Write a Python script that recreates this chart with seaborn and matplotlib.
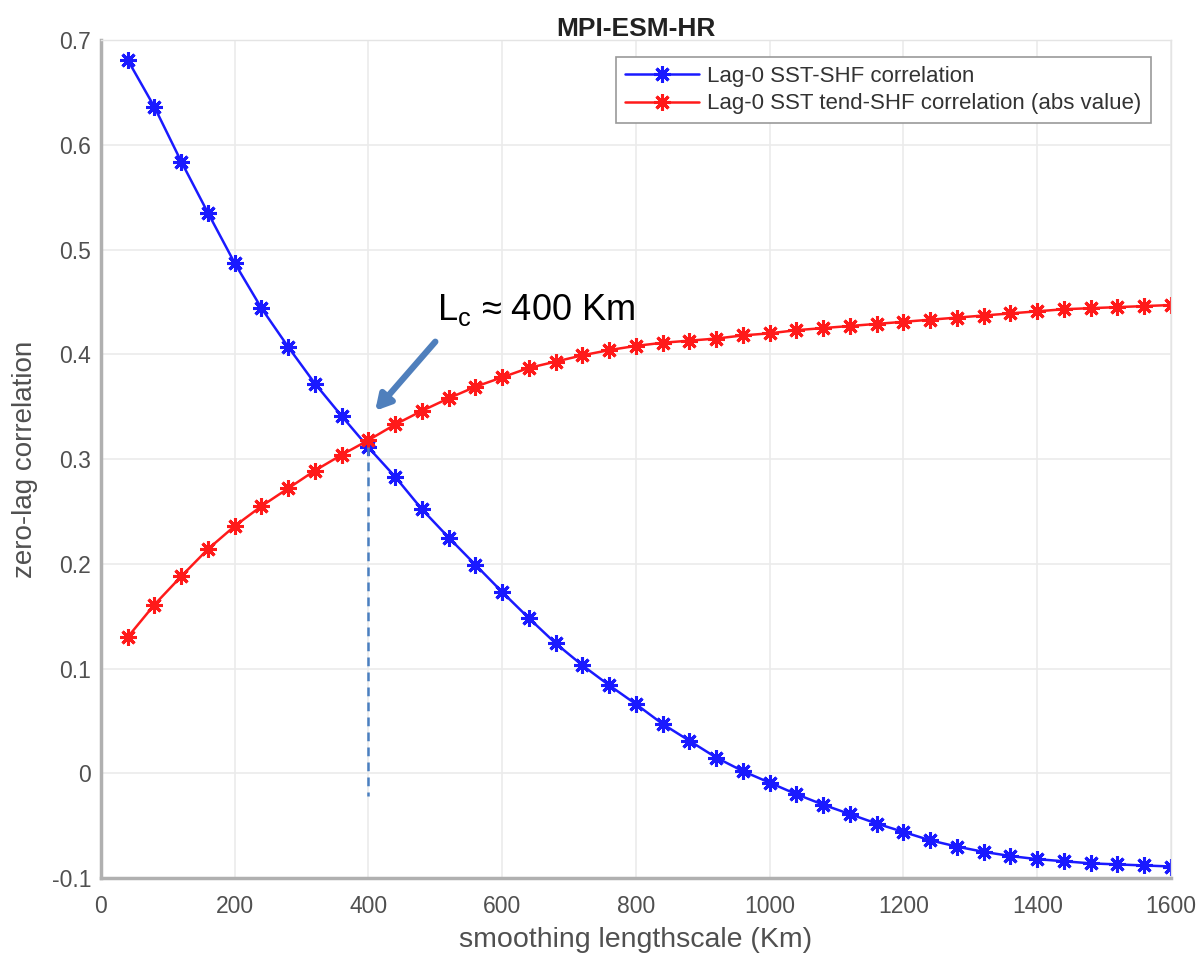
import seaborn as sns
import matplotlib.pyplot as plt
import numpy as np

# smoothing lengthscale (Km)
lengthscale = [40, 80, 120, 160, 200, 240, 280, 320, 360, 400,
               440, 480, 520, 560, 600, 640, 680, 720, 760, 800,
               840, 880, 920, 960, 1000, 1040, 1080, 1120, 1160, 1200,
               1240, 1280, 1320, 1360, 1400, 1440, 1480, 1520, 1560, 1600]

# Lag-0 SST-SHF correlation
sst_shf = [0.681, 0.636, 0.584, 0.535, 0.487, 0.444, 0.407, 0.372, 0.341, 0.311,
           0.283, 0.252, 0.225, 0.199, 0.173, 0.148, 0.124, 0.103, 0.084, 0.066,
           0.047, 0.031, 0.015, 0.002, -0.009, -0.020, -0.030, -0.039, -0.048, -0.056,
           -0.064, -0.070, -0.075, -0.079, -0.082, -0.084, -0.086, -0.087, -0.088, -0.089]

# Lag-0 SST tend-SHF correlation (abs value)
tend_shf = [0.130, 0.161, 0.188, 0.214, 0.236, 0.255, 0.272, 0.289, 0.304, 0.318,
            0.333, 0.346, 0.358, 0.369, 0.378, 0.387, 0.393, 0.399, 0.404, 0.408,
            0.411, 0.413, 0.415, 0.418, 0.420, 0.423, 0.425, 0.427, 0.429, 0.431,
            0.433, 0.435, 0.437, 0.439, 0.441, 0.443, 0.444, 0.445, 0.446, 0.447]

labels = ["Lag-0 SST-SHF correlation", "Lag-0 SST tend-SHF correlation (abs value)"]
colors = ["#1a1aff", "#ff1a1a"]
xticks = [0, 200, 400, 600, 800, 1000, 1200, 1400, 1600]
yticks = [-0.1, 0, 0.1, 0.2, 0.3, 0.4, 0.5, 0.6, 0.7]
ytick_labels = ["-0.1", "0", "0.1", "0.2", "0.3", "0.4", "0.5", "0.6", "0.7"]

sns.set_style("white")
plt.rcParams["font.family"] = ["Liberation Sans", "DejaVu Sans"]

fig = plt.figure(figsize=(11.99, 9.55), dpi=100)
ax = fig.add_axes([0.0842, 0.0806, 0.8924, 0.8775])

# asterisk markers like MATLAB's '*'
for yvals, lab, col in zip([sst_shf, tend_shf], labels, colors):
    sns.lineplot(x=lengthscale, y=yvals, color=col, label=lab,
                 marker=(8, 2, 0), markersize=12, markeredgewidth=2.2,
                 markeredgecolor=col, linewidth=1.8, linestyle="-", ax=ax)

ax.set_xlim(0, 1600)
ax.set_ylim(-0.1, 0.7)
ax.set_xticks(xticks)
ax.set_yticks(yticks)
ax.set_yticklabels(ytick_labels)
ax.grid(True, color="#ebebeb", linewidth=1.2)
ax.set_axisbelow(True)
ax.tick_params(direction="in", length=6, width=1, colors="#888888",
               labelcolor="#505050", labelsize=16.5)
ax.tick_params(axis="x", pad=12)
ax.tick_params(axis="y", pad=7)

for side in ["top", "right"]:
    ax.spines[side].set_color("#e4e4e4")
    ax.spines[side].set_linewidth(1)
for side in ["left", "bottom"]:
    ax.spines[side].set_color("#b0b0b0")
    ax.spines[side].set_linewidth(2.5)

ax.set_xlabel("smoothing lengthscale (Km)", fontsize=20.5, color="#505050", labelpad=7)
ax.set_ylabel("zero-lag correlation", fontsize=20, color="#505050", labelpad=10)
ax.set_title("MPI-ESM-HR", fontsize=19, fontweight="bold", color="#222222", pad=3)

# crossover marker
ax.plot([400, 400], [0.311, -0.022], linestyle=(0, (3.5, 2.5)), color="#4a7fc0", linewidth=1.8)
ax.annotate("", xy=(410, 0.346), xytext=(500, 0.412),
            arrowprops=dict(arrowstyle="-|>,head_length=0.9,head_width=0.5",
                            color="#4f7fbc", linewidth=4.5, shrinkA=0, shrinkB=0))
ax.text(502, 0.433, r"L$_\mathregular{c}$ ≈ 400 Km", fontsize=26, color="black",
        ha="left", va="baseline")

leg = ax.legend(loc="upper right", bbox_to_anchor=(0.981, 0.98), borderaxespad=0,
                fontsize=16, fancybox=False, frameon=True, framealpha=1,
                edgecolor="#999999", handlelength=3.3, borderpad=0.4,
                labelspacing=0.3, handletextpad=0.4)
leg.get_frame().set_linewidth(1.2)
for t in leg.get_texts():
    t.set_color("#333333")

fig.savefig("out.png", dpi=100)
plt.close()
